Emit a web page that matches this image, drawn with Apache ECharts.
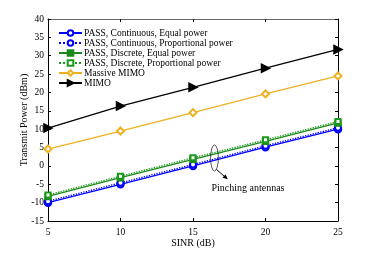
<!DOCTYPE html>
<html><head><meta charset="utf-8">
<script src="https://cdn.jsdelivr.net/npm/echarts@6/dist/echarts.min.js"></script>
<style>html,body{margin:0;padding:0;background:#fff}#c{width:374px;height:253px}</style>
</head><body><div id="c"></div>
<script>
var sinr = [5, 10, 15, 20, 25];
var contEqual = [-10, -5, 0, 5.1, 10];
var contProp = [-9.6, -4.6, 0.4, 5.5, 10.4];
var discEqual = [-8.3, -3.2, 1.8, 6.7, 11.7];
var discProp = [-7.9, -2.8, 2.2, 7.1, 12.1];
var massiveMimo = [4.6, 9.5, 14.5, 19.6, 24.5];
var mimo = [10.3, 16.3, 21.4, 26.6, 31.7];
var seriesNames = ['PASS, Continuous, Equal power','PASS, Continuous, Proportional power','PASS, Discrete, Equal power','PASS, Discrete, Proportional power','Massive MIMO','MIMO'];
var annotationText = 'Pinching antennas';

var FONT = 'Liberation Serif';
function pairs(arr){ return sinr.map(function(x,i){return [x, arr[i]];}); }
var chart = echarts.init(document.getElementById('c'), null, {renderer:'canvas'});
var axisCommon = {
  axisLine:{show:true,onZero:false,lineStyle:{color:'#000',width:1}},
  axisTick:{show:true,inside:true,length:3,lineStyle:{color:'#000'}},
  splitLine:{show:false}
};
function mk(name, data, color, lineType, symbol, size, extra){
  var s = {name:name,type:'line',data:pairs(data),symbol:symbol,symbolSize:size,
    lineStyle:{color:color,width:1.3,type:lineType},
    itemStyle:{color:color,borderColor:color,borderWidth:1.5},
    emphasis:{disabled:true},animation:false,z:3};
  if(extra){for(var k in extra)s[k]=extra[k];}
  return s;
}
var option = {
  animation:false,
  textStyle:{fontFamily:FONT},
  grid:{left:48,top:19,width:290,height:205,containLabel:false},
  legend:{orient:'vertical',left:53,top:23,itemWidth:23,itemHeight:7,itemGap:0,
    textStyle:{fontFamily:FONT,fontSize:9.5,color:'#000',padding:[0,0,0,-3]},
    data:seriesNames},
  xAxis:[Object.assign({type:'value',min:5,max:25,interval:5,
    name:'SINR (dB)',nameLocation:'middle',nameGap:17,nameMoveOverlap:false,
    nameTextStyle:{fontFamily:FONT,fontSize:10,color:'#000'},
    axisLabel:{fontFamily:FONT,fontSize:9.5,color:'#000',margin:6}},axisCommon),
    Object.assign({type:'value',min:5,max:25,interval:5,position:'top',axisLabel:{show:false}},axisCommon,
    {axisLine:{show:true,onZero:false,lineStyle:{color:'#666',width:1}}})],
  yAxis:[Object.assign({type:'value',min:-15,max:40,interval:5,
    name:'Transmit Power (dBm)',nameLocation:'middle',nameGap:19,nameMoveOverlap:false,
    nameTextStyle:{fontFamily:FONT,fontSize:10,color:'#000'},
    axisLabel:{fontFamily:FONT,fontSize:9.5,color:'#000',margin:4}},axisCommon),
    Object.assign({type:'value',min:-15,max:40,interval:5,position:'right',axisLabel:{show:false}},axisCommon)],
  series:[
    mk(seriesNames[0],contEqual,'#0000ff','solid','emptyCircle',6.5),
    mk(seriesNames[1],contProp,'#0000ff','dotted','emptyCircle',6),
    mk(seriesNames[2],discEqual,'#1a8a1a','solid','rect',6),
    mk(seriesNames[3],discProp,'#1a9a1a','dotted','emptyRect',5),
    mk(seriesNames[4],massiveMimo,'#EDB120','solid','emptyDiamond',7),
    mk(seriesNames[5],mimo,'#000000','solid','triangle',8,{symbolRotate:-90})
  ]
};
chart.setOption(option);
var c = chart.convertToPixel({gridIndex:0},[16.48,2.17]);
var a = chart.convertToPixel({gridIndex:0},[17.4,-3.65]);
var t = chart.convertToPixel({gridIndex:0},[16.27,-6.07]);
var sx = 0.3, r = 13;
var sx0 = c[0]+2, sy0 = c[1]+r-1.5;
var ang = Math.atan2(a[1]-sy0, a[0]-sx0);
var hl = 5, hw = 2.2;
var bx = a[0]-hl*Math.cos(ang), by = a[1]-hl*Math.sin(ang);
chart.setOption({graphic:[
  {type:'circle',x:c[0],y:c[1],scaleX:sx,shape:{cx:0,cy:0,r:r},style:{fill:'none',stroke:'#000',lineWidth:1,strokeNoScale:true},z:10},
  {type:'line',shape:{x1:sx0,y1:sy0,x2:bx,y2:by},style:{stroke:'#000',lineWidth:1},z:10},
  {type:'polygon',shape:{points:[[a[0],a[1]],[bx+hw*Math.sin(ang),by-hw*Math.cos(ang)],[bx-hw*Math.sin(ang),by+hw*Math.cos(ang)]]},style:{fill:'#000'},z:10},
  {type:'text',x:t[0],y:t[1],style:{text:annotationText,font:'10px "Liberation Serif"',fill:'#000',verticalAlign:'middle',align:'left'},z:10}
]});
</script></body></html>
